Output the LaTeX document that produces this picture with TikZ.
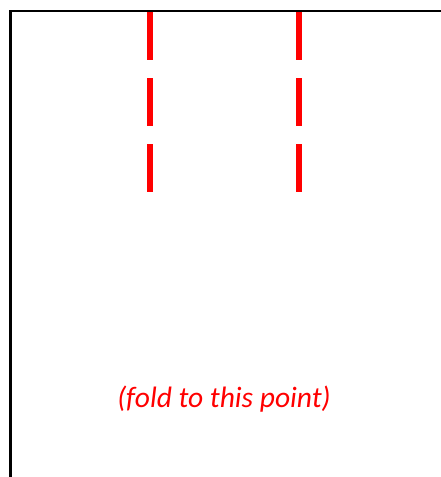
\documentclass[tikz,border=0pt]{standalone}
\usepackage{fontspec}
\setmainfont{Carlito}
\begin{document}
\begin{tikzpicture}[x=1pt,y=-1pt,
  edge/.style={draw=black,line width=2.8pt},
  foldline/.style={draw=red,line width=6pt,dash pattern=on 48pt off 18pt},
  note/.style={text=red,font=\fontsize{29.5}{35}\selectfont\itshape,inner sep=0pt,anchor=base}]
\useasboundingbox (0,0) rectangle (441,477);
\clip (0,0) rectangle (441,477);
\fill[white] (0,0) rectangle (441,477);
\coordinate (bl) at (10.5,480);
\coordinate (tl) at (10.5,11);
\coordinate (tr) at (445,11);
\draw[edge] (bl) -- (tl) -- (tr);
\coordinate (a1) at (150,12);
\coordinate (a2) at (150,192);
\coordinate (b1) at (299,12);
\coordinate (b2) at (299,192);
\draw[foldline] (a1) -- (a2);
\draw[foldline] (b1) -- (b2);
\node[note] (t) at (224,407.5) {(fold to this point)};
\end{tikzpicture}
\end{document}
